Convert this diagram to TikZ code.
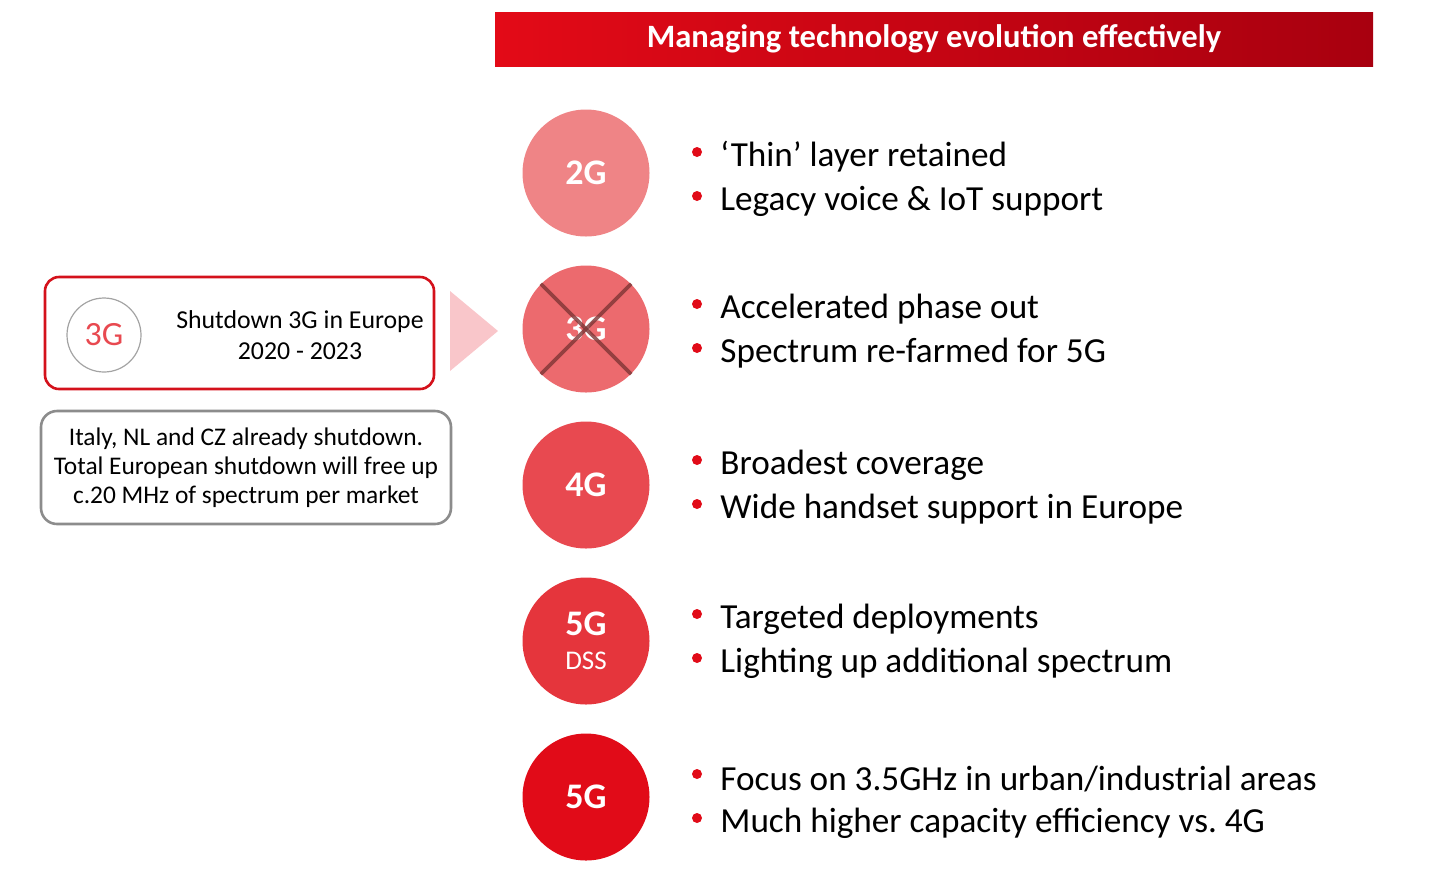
\documentclass[tikz,border=0pt]{standalone}
\usepackage{fontspec}
\setmainfont{Carlito}
\usetikzlibrary{positioning}
\definecolor{HeadRed}{HTML}{E30A17}
\definecolor{HeadDark}{HTML}{A8000F}
\definecolor{Gen2}{HTML}{EF8486}
\definecolor{Gen3}{HTML}{EC6A6E}
\definecolor{Gen4}{HTML}{E84950}
\definecolor{GenDss}{HTML}{E5353C}
\definecolor{Gen5}{HTML}{E10B18}
\definecolor{BoxRed}{HTML}{D4111B}
\definecolor{BoxGrey}{HTML}{8C8C8C}
\definecolor{Pale}{HTML}{F9C6CA}
\definecolor{CrossInk}{HTML}{7E3535}

\begin{document}
\begin{tikzpicture}[x=0.5pt,y=-0.5pt,
      gen/.style={circle,inner sep=0pt,minimum size=63.5pt,text=white,
                  font=\bfseries\fontsize{18}{20}\selectfont},
      dot/.style={circle,fill=Gen5,inner sep=0pt,minimum size=5pt},
      item/.style={anchor=west,inner sep=0pt,
                   font=\fontsize{17.6}{20}\selectfont},
      note/.style={align=center,font=\fontsize{12.7}{14.5}\selectfont}]
    \useasboundingbox (0,0) rectangle (1440,880);
    % header bar
    \node[left color=HeadRed,right color=HeadDark,minimum width=439pt,
          minimum height=27pt,inner sep=0pt,text=white,
          font=\bfseries\fontsize{16.3}{18}\selectfont] (title) at (934,39)
      {Managing technology evolution effectively};
    % generations
    \node[gen,fill=Gen2] (g2) at (586,173) {2G};
    \node[gen,fill=Gen3] (g3) at (586,329) {3G};
    \node[gen,fill=Gen4] (g4) at (586,485) {4G};
    \node[gen,fill=GenDss,align=center] (gdss) at (586,641)
      {5G\\[-3pt]{\mdseries\fontsize{13.5}{15}\selectfont DSS}};
    \node[gen,fill=Gen5] (g5) at (586,797) {5G};
    \draw[CrossInk,opacity=0.8,line width=1.8pt] (g3.135) -- (g3.-45);
    \draw[CrossInk,opacity=0.8,line width=1.8pt] (g3.45) -- (g3.-135);
    % bullets
    \node[dot] (d2a) at (697,152) {};
    \node[item] (t2a) at (720,157) {‘Thin’ layer retained};
    \node[dot] (d2b) at (697,196) {};
    \node[item] (t2b) at (720,201) {Legacy voice \& IoT support};
    \node[dot] (d3a) at (697,304) {};
    \node[item] (t3a) at (720,309) {Accelerated phase out};
    \node[dot] (d3b) at (697,348) {};
    \node[item] (t3b) at (720,353) {Spectrum re-farmed for 5G};
    \node[dot] (d4a) at (697,460) {};
    \node[item] (t4a) at (720,465) {Broadest coverage};
    \node[dot] (d4b) at (697,504) {};
    \node[item] (t4b) at (720,509) {Wide handset support in Europe};
    \node[dot] (dda) at (697,614) {};
    \node[item] (tda) at (720,619) {Targeted deployments};
    \node[dot] (ddb) at (697,658) {};
    \node[item] (tdb) at (720,663) {Lighting up additional spectrum};
    \node[dot] (d5a) at (697,774) {};
    \node[item] (t5a) at (720,779) {Focus on 3.5GHz in urban/industrial areas};
    \node[dot] (d5b) at (697,818) {};
    \node[item] (t5b) at (720,823) {Much higher capacity efficiency vs.\ 4G};
    % 3G shutdown box
    \node[draw=BoxRed,line width=1.3pt,rounded corners=7pt,
          minimum width=194.5pt,minimum height=56pt] (shut) at (239.5,333) {};
    \node[circle,draw=BoxGrey!80,line width=0.6pt,minimum size=37pt,
          inner sep=0pt,text=Gen4,font=\fontsize{17}{18}\selectfont]
      (small3g) at (104,335) {3G};
    \node[note,font=\fontsize{12.9}{15.5}\selectfont] (shuttxt) at (300,335)
      {Shutdown 3G in Europe\\2020 - 2023};
    \fill[Pale] (450,291) -- (498,331) -- (450,371) -- cycle;
    % already shut down
    \node[draw=BoxGrey,line width=1.3pt,rounded corners=8pt,note,
          minimum width=205pt,minimum height=56.5pt] (done) at (246,467.5)
      {Italy, NL and CZ already shutdown.\\
       Total European shutdown will free up\\
       c.20 MHz of spectrum per market};
  \end{tikzpicture}
\end{document}
